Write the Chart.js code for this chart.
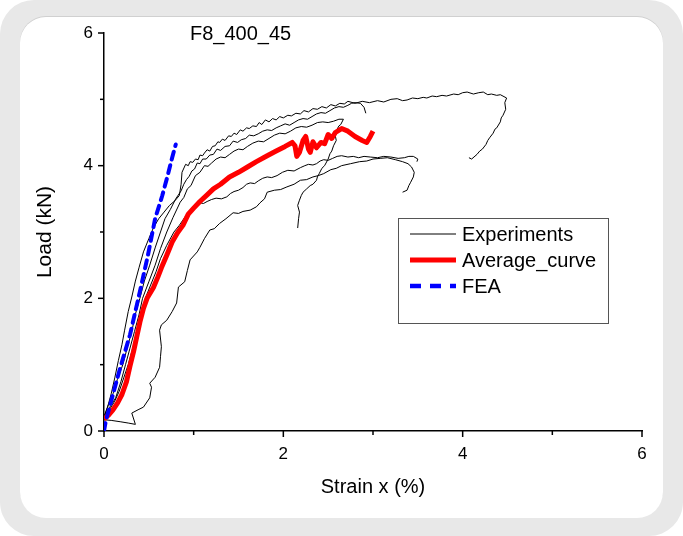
<!doctype html>
<html>
<head>
<meta charset="UTF-8">
<title>F8_400_45</title>
<script src="https://cdn.jsdelivr.net/npm/chart.js@4.4.1/dist/chart.umd.min.js"></script>
<style>
  body { margin: 0; background: #fff; }
  #frame { position: absolute; left: 0; top: 0; width: 683px; height: 536px; background: #e8e8e8; border-radius: 34px; }
  #inner { position: absolute; left: 20px; top: 17px; width: 643px; height: 501px; background: #fff; border-radius: 26px; box-shadow: 0 -1px 0 #d0d0d0; }
  #chart { position: absolute; left: 0; top: 0; }
</style>
</head>
<body>
<div id="frame"><div id="inner"></div></div>
<canvas id="chart" width="683" height="536"></canvas>
<script>
// strain x (%) / load (kN) pairs
var exp1 = [[0,0.2],[0.04,0.36],[0.08,0.56],[0.12,0.8],[0.16,1.06],[0.2,1.3],[0.23,1.52],[0.27,1.8],[0.31,2.02],[0.35,2.26],[0.39,2.46],[0.44,2.7],[0.5,2.9],[0.55,3.06],[0.61,3.2],[0.67,3.3],[0.73,3.4],[0.79,3.47],[0.84,3.55],[0.86,3.72],[0.87,3.9],[0.91,4.02],[0.94,4.0],[0.96,4.06],[0.99,4.05],[1.02,4.1],[1.05,4.09],[1.07,4.16],[1.1,4.15],[1.12,4.19],[1.15,4.24],[1.18,4.22],[1.21,4.29],[1.24,4.3],[1.27,4.36],[1.29,4.35],[1.32,4.4],[1.35,4.38],[1.39,4.45],[1.42,4.44],[1.45,4.49],[1.48,4.47],[1.52,4.54],[1.55,4.52],[1.59,4.57],[1.62,4.56],[1.66,4.6],[1.7,4.59],[1.73,4.65],[1.76,4.62],[1.8,4.69],[1.84,4.66],[1.88,4.71],[1.92,4.69],[1.96,4.74],[2.0,4.72],[2.05,4.76],[2.09,4.75],[2.14,4.79],[2.19,4.78],[2.23,4.83],[2.28,4.81],[2.33,4.86],[2.38,4.85],[2.43,4.89],[2.48,4.87],[2.53,4.92],[2.58,4.9],[2.63,4.94],[2.68,4.93],[2.72,4.97],[2.8,4.94],[2.88,4.97],[2.96,4.95],[3.05,4.98],[3.12,4.96],[3.2,5.0],[3.27,5.01],[3.33,4.98],[3.38,4.99],[3.44,5.02],[3.5,5.01],[3.56,5.03],[3.6,5.02],[3.66,5.05],[3.71,5.04],[3.77,5.06],[3.82,5.05],[3.9,5.08],[3.95,5.07],[4.0,5.1],[4.05,5.11],[4.12,5.08],[4.18,5.1],[4.23,5.11],[4.28,5.07],[4.32,5.08],[4.38,5.06],[4.42,5.07],[4.49,5.02],[4.47,4.95],[4.48,4.85],[4.45,4.76],[4.43,4.72],[4.42,4.66],[4.38,4.57],[4.36,4.55],[4.34,4.49],[4.3,4.42],[4.28,4.38],[4.26,4.32],[4.22,4.25],[4.19,4.22],[4.16,4.17],[4.1,4.1],[4.07,4.12]];
var exp2 = [[0,0.22],[0.05,0.4],[0.1,0.56],[0.15,0.78],[0.21,1.0],[0.26,1.26],[0.31,1.5],[0.35,1.76],[0.4,2.0],[0.45,2.26],[0.51,2.5],[0.57,2.76],[0.63,3.0],[0.68,3.2],[0.74,3.34],[0.8,3.5],[0.86,3.62],[0.89,3.72],[0.92,3.79],[0.95,3.84],[0.98,3.92],[1.01,3.95],[1.04,4.04],[1.07,4.03],[1.1,4.1],[1.14,4.1],[1.18,4.16],[1.22,4.17],[1.26,4.25],[1.3,4.23],[1.35,4.29],[1.4,4.3],[1.44,4.37],[1.49,4.35],[1.53,4.39],[1.58,4.41],[1.62,4.46],[1.67,4.45],[1.72,4.48],[1.77,4.52],[1.82,4.54],[1.87,4.53],[1.92,4.57],[1.97,4.6],[2.02,4.63],[2.07,4.61],[2.12,4.65],[2.17,4.69],[2.22,4.71],[2.27,4.7],[2.32,4.74],[2.37,4.78],[2.42,4.8],[2.47,4.79],[2.52,4.83],[2.57,4.87],[2.62,4.89],[2.67,4.88],[2.72,4.91],[2.76,4.94],[2.8,4.95],[2.86,4.94],[2.9,4.88],[2.92,4.79]];
var exp3 = [[0,0.2],[0.06,0.35],[0.13,0.5],[0.19,0.75],[0.24,1.0],[0.29,1.25],[0.34,1.5],[0.39,1.75],[0.43,2.0],[0.5,2.25],[0.57,2.5],[0.63,2.75],[0.7,3.0],[0.77,3.22],[0.85,3.45],[0.89,3.52],[0.93,3.65],[0.97,3.7],[1.02,3.85],[1.07,3.9],[1.12,4.0],[1.16,3.99],[1.2,4.04],[1.25,4.1],[1.3,4.13],[1.35,4.12],[1.4,4.17],[1.45,4.22],[1.5,4.25],[1.55,4.24],[1.6,4.29],[1.66,4.34],[1.72,4.37],[1.78,4.36],[1.84,4.41],[1.9,4.46],[1.96,4.49],[2.02,4.48],[2.08,4.52],[2.14,4.57],[2.2,4.59],[2.26,4.58],[2.32,4.61],[2.38,4.65],[2.44,4.66],[2.5,4.65],[2.56,4.67],[2.62,4.7],[2.67,4.7],[2.64,4.62],[2.62,4.6],[2.6,4.55],[2.58,4.45],[2.59,4.38],[2.56,4.3],[2.54,4.22],[2.52,4.18],[2.5,4.1],[2.46,4.0],[2.43,3.96],[2.4,3.88],[2.38,3.83],[2.37,3.78],[2.33,3.72],[2.3,3.7],[2.26,3.65],[2.22,3.6],[2.2,3.55],[2.18,3.48],[2.16,3.4],[2.18,3.3],[2.17,3.2],[2.16,3.06]];
var exp4 = [[0,0.22],[0.06,0.32],[0.12,0.45],[0.17,0.6],[0.22,0.8],[0.27,1.0],[0.32,1.25],[0.37,1.5],[0.42,1.75],[0.46,2.0],[0.52,2.2],[0.58,2.4],[0.63,2.6],[0.7,2.8],[0.78,3.0],[0.84,3.1],[0.88,3.18],[0.92,3.26],[0.95,3.3],[0.99,3.32],[1.02,3.38],[1.07,3.44],[1.11,3.43],[1.15,3.46],[1.2,3.49],[1.25,3.51],[1.31,3.5],[1.37,3.53],[1.41,3.58],[1.45,3.61],[1.5,3.63],[1.55,3.67],[1.59,3.72],[1.63,3.74],[1.68,3.73],[1.72,3.77],[1.77,3.81],[1.82,3.83],[1.87,3.82],[1.93,3.85],[1.99,3.9],[2.05,3.93],[2.12,3.92],[2.19,3.97],[2.24,4.0],[2.28,4.02],[2.33,4.01],[2.37,4.03],[2.41,4.07],[2.45,4.09],[2.5,4.08],[2.55,4.11],[2.6,4.14],[2.65,4.15],[2.72,4.13],[2.78,4.14],[2.84,4.12],[2.9,4.14],[2.97,4.13],[3.05,4.12],[3.12,4.14],[3.2,4.13],[3.28,4.11],[3.35,4.12],[3.4,4.14],[3.45,4.14],[3.5,4.1],[3.49,4.06]];
var exp5 = [[0,0.17],[0.08,0.16],[0.18,0.14],[0.27,0.12],[0.35,0.1],[0.31,0.27],[0.38,0.32],[0.44,0.36],[0.51,0.5],[0.53,0.66],[0.51,0.72],[0.57,0.81],[0.62,0.96],[0.63,1.12],[0.64,1.27],[0.62,1.52],[0.64,1.6],[0.7,1.67],[0.76,1.8],[0.81,1.93],[0.83,2.17],[0.9,2.25],[0.93,2.42],[0.96,2.58],[1.04,2.7],[1.07,2.77],[1.12,2.9],[1.18,3.03],[1.23,3.05],[1.29,3.13],[1.36,3.2],[1.44,3.29],[1.5,3.28],[1.55,3.31],[1.63,3.33],[1.7,3.38],[1.74,3.44],[1.79,3.5],[1.82,3.6],[1.9,3.63],[1.97,3.64],[2.04,3.68],[2.12,3.72],[2.19,3.78],[2.26,3.79],[2.33,3.83],[2.39,3.85],[2.45,3.88],[2.53,3.94],[2.59,3.96],[2.65,4.0],[2.75,4.03],[2.85,4.06],[2.93,4.07],[3.0,4.1],[3.08,4.11],[3.16,4.12],[3.25,4.09],[3.33,4.06],[3.39,4.03],[3.43,3.98],[3.46,3.9],[3.45,3.83],[3.42,3.75],[3.4,3.7],[3.38,3.63],[3.33,3.6]];
var avgCurve = [[0,0.18],[0.05,0.24],[0.1,0.32],[0.15,0.42],[0.2,0.55],[0.25,0.74],[0.29,0.98],[0.33,1.2],[0.37,1.45],[0.4,1.64],[0.44,1.85],[0.48,2.0],[0.55,2.16],[0.6,2.32],[0.64,2.46],[0.7,2.65],[0.76,2.85],[0.82,2.99],[0.88,3.1],[0.94,3.27],[1.0,3.36],[1.07,3.46],[1.15,3.56],[1.22,3.65],[1.3,3.72],[1.4,3.83],[1.5,3.9],[1.6,3.98],[1.7,4.06],[1.82,4.15],[1.92,4.22],[2.02,4.29],[2.1,4.35],[2.13,4.3],[2.15,4.14],[2.18,4.2],[2.22,4.38],[2.25,4.44],[2.28,4.25],[2.3,4.2],[2.33,4.36],[2.37,4.27],[2.42,4.35],[2.46,4.33],[2.5,4.47],[2.54,4.41],[2.58,4.5],[2.65,4.56],[2.72,4.52],[2.8,4.44],[2.88,4.38],[2.93,4.35],[2.97,4.44],[3.0,4.52]];
var feaCurve = [[0,0],[0.02,0.15],[0.1,0.55],[0.18,0.95],[0.29,1.45],[0.4,2.1],[0.49,2.65],[0.57,3.2],[0.65,3.55],[0.71,3.85],[0.76,4.12],[0.8,4.32]];

var xTicks = [0, 2, 4, 6];
var yTicks = [0, 2, 4, 6];
var legendLabels = ['Experiments', 'Average_curve', 'FEA'];
var FONT = '"Liberation Sans", Arial, sans-serif';

function pts(arr) {
  return arr.map(function (p) { return { x: p[0], y: p[1] }; });
}

function expSet(arr) {
  return { data: pts(arr), showLine: true, borderColor: '#000', borderWidth: 1, pointRadius: 0, order: 3 };
}

// ticks (major + minor), title and boxed legend
var decor = {
  id: 'decor',
  afterDraw: function (chart) {
    var c = chart.ctx, xs = chart.scales.x, ys = chart.scales.y;
    var x0 = xs.getPixelForValue(0), y0 = ys.getPixelForValue(0);
    c.save();
    c.strokeStyle = '#000';
    c.lineWidth = 1.5;
    for (var v = 0; v <= 6; v++) {
      var len = v % 2 === 0 ? 6 : 4;
      var px = xs.getPixelForValue(v);
      c.beginPath(); c.moveTo(px, y0); c.lineTo(px, y0 + len); c.stroke();
      var py = ys.getPixelForValue(v);
      c.beginPath(); c.moveTo(x0, py); c.lineTo(x0 - len, py); c.stroke();
    }

    c.fillStyle = '#000';
    c.font = '20px ' + FONT;
    c.textBaseline = 'middle';
    c.textAlign = 'left';
    c.fillText('F8_400_45', 190, 34);

    // legend box
    c.lineWidth = 1;
    c.strokeStyle = '#555';
    c.strokeRect(398.5, 218.5, 210, 105);
    var rows = [234, 260, 286];
    c.lineCap = 'butt';
    c.strokeStyle = '#000'; c.lineWidth = 1;
    c.beginPath(); c.moveTo(410, rows[0]); c.lineTo(456, rows[0]); c.stroke();
    c.strokeStyle = '#ff0000'; c.lineWidth = 5;
    c.beginPath(); c.moveTo(410, rows[1]); c.lineTo(456, rows[1]); c.stroke();
    c.strokeStyle = '#0000ff'; c.lineWidth = 4.5; c.setLineDash([11, 9]);
    c.beginPath(); c.moveTo(410, rows[2]); c.lineTo(456, rows[2]); c.stroke();
    c.setLineDash([]);
    for (var i = 0; i < legendLabels.length; i++) {
      c.fillText(legendLabels[i], 462, rows[i] + 1);
    }
    c.restore();
  }
};

new Chart(document.getElementById('chart'), {
  type: 'scatter',
  data: {
    datasets: [
      { label: 'FEA', data: pts(feaCurve), showLine: true, borderColor: '#0000ff', borderWidth: 4,
        borderDash: [8, 6], borderCapStyle: 'round', pointRadius: 0, order: 0 },
      { label: 'Average_curve', data: pts(avgCurve), showLine: true, borderColor: '#ff0000', borderWidth: 5,
        borderJoinStyle: 'round', pointRadius: 0, order: 1 },
      expSet(exp1), expSet(exp2), expSet(exp3), expSet(exp4), expSet(exp5)
    ]
  },
  options: {
    responsive: false,
    animation: false,
    layout: { padding: { left: 0, top: 33, right: 41, bottom: 0 } },
    plugins: { legend: { display: false }, tooltip: { enabled: false } },
    scales: {
      x: {
        type: 'linear', min: 0, max: 6,
        afterFit: function (s) { s.height = 105; },
        afterBuildTicks: function (s) { s.ticks = xTicks.map(function (v) { return { value: v }; }); },
        grid: { display: false, drawTicks: false },
        border: { display: true, color: '#000', width: 1.5 },
        ticks: { color: '#000', padding: 13, maxRotation: 0, font: { family: FONT, size: 17 } },
        title: { display: true, text: 'Strain x (%)', color: '#000', font: { family: FONT, size: 20 }, padding: { bottom: 37 } }
      },
      y: {
        type: 'linear', min: 0, max: 6,
        afterFit: function (s) { s.width = 104; },
        afterBuildTicks: function (s) { s.ticks = yTicks.map(function (v) { return { value: v }; }); },
        grid: { display: false, drawTicks: false },
        border: { display: true, color: '#000', width: 1.5 },
        ticks: { color: '#000', padding: 11, font: { family: FONT, size: 17 } },
        title: { display: true, text: 'Load (kN)', color: '#000', font: { family: FONT, size: 21 }, padding: { top: 33 } }
      }
    }
  },
  plugins: [decor]
});
</script>
</body>
</html>
